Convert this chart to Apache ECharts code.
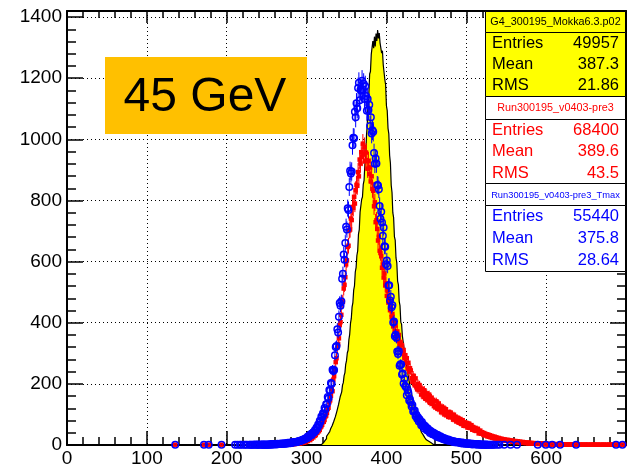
<!DOCTYPE html>
<html>
<head>
<meta charset="utf-8">
<script src="https://cdn.jsdelivr.net/npm/echarts@6/dist/echarts.min.js"></script>
<style>
  html, body { margin: 0; padding: 0; background: #fff; }
  #chart { width: 636px; height: 468px; }
</style>
</head>
<body>
<div id="chart"></div>
<script>
// Common bin width of the three histograms
const BIN = 1;

// G4_300195_Mokka6.3.p02 (simulation): lower edge of first bin, counts per bin
const simStart = 318;
const simCounts = [
  3, 6, 7, 12, 14, 19, 21, 28, 29, 36,
  41, 44, 52, 55, 63, 66, 77, 80, 92, 97,
  111, 115, 132, 138, 157, 161, 174, 196, 204, 227,
  236, 264, 276, 301, 310, 345, 362, 398, 414, 452,
  466, 507, 521, 566, 580, 620, 635, 690, 705, 762,
  768, 804, 812, 853, 866, 918, 938, 1012, 1048, 1122,
  1150, 1214, 1222, 1278, 1280, 1322, 1298, 1336, 1304, 1346,
  1322, 1358, 1330, 1348, 1316, 1322, 1282, 1290, 1244, 1238,
  1196, 1178, 1110, 1094, 1036, 1018, 948, 922, 850, 826,
  760, 744, 682, 670, 612, 596, 536, 524, 470, 456,
  402, 395, 356, 352, 318, 312, 284, 278, 247, 242,
  216, 210, 186, 182, 162, 156, 135, 130, 110, 106,
  89, 85, 70, 67, 56, 52, 41, 39, 33, 29,
  24, 21, 17, 15, 12, 10, 8, 7, 5, 3, 2, 1
];

// Run300195_v0403-pre3 (data)
const runStart = 250;
const runCounts = [
  0, 1, 0, 0, 1, 0, 1, 0, 1, 0,
  1, 0, 1, 1, 0, 2, 1, 1, 0, 2,
  1, 2, 2, 1, 3, 2, 2, 3, 1, 3,
  3, 2, 4, 3, 5, 3, 4, 6, 4, 5,
  6, 5, 8, 6, 7, 9, 8, 10, 9, 11,
  14, 13, 17, 18, 16, 22, 21, 27, 25, 31,
  30, 33, 39, 40, 47, 45, 50, 58, 61, 66,
  75, 76, 82, 93, 96, 105, 118, 122, 140, 146,
  161, 183, 176, 214, 225, 244, 271, 284, 318, 330,
  349, 392, 402, 426, 470, 468, 512, 524, 549, 591,
  604, 648, 652, 702, 705, 741, 736, 779, 776, 812,
  790, 834, 851, 848, 893, 879, 934, 921, 958, 943,
  986, 951, 975, 929, 957, 932, 904, 929, 887, 908,
  862, 879, 838, 832, 781, 794, 729, 735, 707, 669,
  681, 636, 628, 618, 580, 590, 548, 561, 522, 529,
  488, 505, 466, 473, 441, 455, 418, 429, 388, 407,
  372, 391, 358, 371, 341, 360, 328, 336, 311, 327,
  299, 311, 284, 294, 268, 284, 250, 269, 240, 251,
  244, 219, 207, 227, 213, 195, 218, 192, 182, 200,
  181, 196, 185, 165, 184, 169, 157, 179, 169, 151,
  169, 147, 157, 165, 138, 143, 155, 135, 147, 127,
  143, 123, 143, 126, 118, 136, 117, 125, 107, 125,
  109, 122, 100, 114, 117, 97, 106, 92, 107, 94,
  106, 90, 97, 83, 99, 87, 93, 77, 81, 89,
  73, 83, 85, 69, 73, 81, 63, 71, 74, 62,
  72, 57, 65, 70, 56, 56, 65, 50, 59, 51,
  47, 56, 46, 51, 53, 38, 41, 47, 37, 42,
  40, 33, 39, 31, 36, 35, 28, 34, 27, 32,
  25, 30, 24, 28, 22, 27, 21, 25, 23, 19,
  23, 18, 21, 17, 20, 16, 19, 15, 18, 14,
  15, 17, 13, 16, 12, 15, 13, 11, 14, 12,
  10, 13, 11, 9, 12, 10, 8, 11, 9, 8,
  10, 7, 9, 8, 6, 8, 7, 5, 8, 6,
  5, 7, 6, 4, 6, 5, 4, 6, 4, 5,
  3, 5, 4, 4, 3, 5, 3, 4, 2, 4,
  2, 4, 2, 3, 2, 3, 2, 3, 1, 3,
  2, 3, 1, 2, 2, 3, 1, 2, 1, 2,
  1, 2, 1, 2, 1, 2, 1, 1, 1, 2,
  1, 1, 0, 2, 1, 1, 1, 0, 1, 1,
  1, 0, 1, 1, 0, 1, 1, 0, 1, 1,
  0, 1, 1, 0, 1, 0, 1, 1, 0, 1,
  1, 0, 1, 0, 1, 1, 0, 1, 0, 1,
  0, 1, 1, 0, 1, 0, 1, 0, 1, 1,
  0, 1, 0, 1, 1, 0, 1, 0, 1, 0,
  1, 0, 1, 0, 0, 1, 0, 1, 0, 0
];
// isolated single entries below the main range
const runSparse = [[135.5, 1], [171.5, 1], [177.5, 1], [193.5, 1]];

// Run300195_v0403-pre3_Tmax (data, Tmax reconstruction)
const tmaxStart = 210;
const tmaxCounts = [
  1, 0, 0, 1, 0, 0, 1, 0, 1, 0,
  0, 1, 0, 1, 0, 1, 0, 0, 1, 1,
  0, 1, 1, 0, 1, 2, 0, 1, 1, 2,
  1, 0, 2, 1, 1, 2, 1, 2, 1, 1,
  2, 1, 2, 2, 1, 3, 2, 2, 3, 2,
  3, 3, 2, 4, 3, 3, 4, 3, 5, 4,
  4, 5, 4, 6, 5, 5, 7, 6, 7, 6,
  8, 7, 9, 8, 9, 10, 9, 11, 10, 12,
  12, 14, 13, 15, 16, 17, 19, 18, 21, 22,
  22, 28, 25, 31, 30, 36, 33, 39, 42, 41,
  49, 47, 57, 55, 67, 65, 79, 76, 93, 91,
  104, 101, 121, 116, 133, 134, 157, 153, 180, 178,
  203, 200, 246, 242, 245, 294, 321, 324, 379, 368,
  420, 465, 456, 470, 544, 560, 623, 606, 661, 714,
  705, 775, 769, 844, 897, 888, 895, 981, 1005, 1004,
  1090, 1072, 1118, 1102, 1168, 1185, 1128, 1162, 1160, 1192,
  1163, 1182, 1132, 1174, 1142, 1094, 1132, 1096, 1113, 1044,
  1072, 1019, 1030, 1025, 955, 920, 937, 921, 851, 849,
  837, 782, 740, 763, 728, 685, 712, 650, 649, 591,
  604, 586, 522, 523, 473, 485, 451, 457, 401, 404,
  356, 361, 351, 306, 298, 307, 259, 264, 263, 231,
  234, 201, 217, 193, 190, 163, 180, 170, 146, 150,
  140, 126, 131, 110, 112, 113, 94, 99, 86, 91,
  77, 84, 77, 65, 75, 62, 66, 54, 62, 56,
  48, 55, 46, 49, 39, 46, 41, 35, 41, 34,
  38, 30, 34, 26, 33, 27, 24, 29, 23, 25,
  20, 23, 18, 21, 16, 18, 15, 18, 14, 15,
  15, 12, 13, 10, 12, 9, 11, 10, 8, 10,
  9, 7, 8, 6, 8, 5, 7, 6, 4, 6,
  5, 4, 6, 3, 4, 5, 3, 2, 4, 3,
  3, 2, 3, 2, 2, 3, 2, 1, 2, 2,
  1, 2, 1, 1, 2, 1, 1, 1, 0, 1,
  1, 0, 1, 1, 0, 1, 0, 0, 1, 0
];
const tmaxSparse = [
  [135.5, 1], [171.5, 1], [177.5, 1], [193.5, 1],
  [541.5, 1], [547.5, 1], [555.5, 1], [563.5, 1], [589.5, 1], [599.5, 1],
  [607.5, 1], [617.5, 1], [637.5, 1], [687.5, 1], [695.5, 1]
];

// Statistics boxes
const statTitles = ['G4_300195_Mokka6.3.p02', 'Run300195_v0403-pre3', 'Run300195_v0403-pre3_Tmax'];
const statEntries = ['49957', '68400', '55440'];
const statMeans = ['387.3', '389.6', '375.8'];
const statRms = ['21.86', '43.5', '28.64'];
const statColors = ['#000000', '#ff0000', '#0000ff'];
const statFills = ['#ffff00', '#ffffff', '#ffffff'];
const statTitleSizes = [10.8, 10.8, 9.3];

const energyLabel = '45 GeV';

// ---- derived series data ----
function stepOutline(start, counts) {
  const pts = [[start, 0]];
  counts.forEach((c, i) => pts.push([start + i * BIN, c]));
  const end = start + counts.length * BIN;
  pts.push([end, counts[counts.length - 1]]);
  pts.push([end, 0]);
  return pts;
}
function markerPoints(start, counts, extra) {
  const pts = [];
  extra.forEach(p => pts.push(p));
  counts.forEach((c, i) => { if (c > 0) pts.push([start + i * BIN + BIN / 2, c]); });
  return pts;
}
function errorBars(color) {
  return function (params, api) {
    const x = api.value(0), y = api.value(1);
    const e = Math.sqrt(y);
    const p1 = api.coord([x, y + e]);
    const p2 = api.coord([x, Math.max(0, y - e)]);
    return {
      type: 'line',
      shape: { x1: p1[0], y1: p1[1], x2: p2[0], y2: p2[1] },
      style: { stroke: color, lineWidth: 1 }
    };
  };
}

const simLine = stepOutline(simStart, simCounts);
const runPts = markerPoints(runStart, runCounts, runSparse);
const tmaxPts = markerPoints(tmaxStart, tmaxCounts, tmaxSparse);

const FONT = "'Liberation Sans', Arial, Helvetica, sans-serif";
const gridL = 67, gridT = 11, gridR = 10, gridB = 21;

// ---- frame axes ----
const tickStyle = { color: '#000', width: 1.5 };
const dotted = { color: '#000', width: 1, type: [1, 3] };

const xAxes = [
  {
    type: 'value', position: 'bottom', min: 0, max: 700, interval: 100,
    axisLine: { show: true, onZero: false, lineStyle: { color: '#000', width: 2 } },
    axisTick: { show: true, inside: true, length: 14, lineStyle: tickStyle },
    minorTick: { show: true, splitNumber: 5, length: 8, lineStyle: tickStyle },
    splitLine: { show: true, lineStyle: dotted },
    axisLabel: {
      show: true, margin: 4, color: '#000', fontSize: 19, fontFamily: FONT,
      formatter: v => (v < 700 ? String(v) : '')
    }
  },
  {
    type: 'value', position: 'top', min: 0, max: 700, interval: 100,
    axisLine: { show: true, onZero: false, lineStyle: { color: '#000', width: 2 } },
    axisTick: { show: true, inside: true, length: 12, lineStyle: tickStyle },
    minorTick: { show: true, splitNumber: 5, length: 7, lineStyle: tickStyle },
    splitLine: { show: false },
    axisLabel: { show: false }
  }
];

function yAx(pos, interval, len, showLine, labels, grid) {
  return {
    type: 'value', position: pos, min: 0, max: 1420, interval: interval,
    axisLine: { show: showLine, onZero: false, lineStyle: { color: '#000', width: 2 } },
    axisTick: { show: true, inside: true, length: len, lineStyle: tickStyle },
    splitLine: { show: grid, lineStyle: dotted },
    axisLabel: labels ? {
      show: true, margin: 5, color: '#000', fontSize: 19, fontFamily: FONT,
      formatter: v => (v % 200 === 0 ? String(v) : '')
    } : { show: false }
  };
}
const yAxes = [
  yAx('left', 200, 16, true, true, true),
  yAx('left', 40, 9, false, false, false),
  yAx('right', 200, 16, true, false, false),
  yAx('right', 40, 9, false, false, false)
];

// ---- statistics boxes and energy label ----
const graphics = [];
const boxL = 485, boxW = 140;
const boxRows = [[11, 32, 96], [96, 119, 183], [183, 205, 271]];
const lineY = [[43, 64, 85], [130, 151, 173], [216, 238, 260]];
statTitles.forEach((t, k) => {
  const [top, sep, bot] = boxRows[k];
  const col = statColors[k];
  graphics.push({
    type: 'rect', z: 100,
    shape: { x: boxL + 0.5, y: top + 0.5, width: boxW, height: sep - top },
    style: { fill: statFills[k], stroke: '#000', lineWidth: 1 }
  });
  graphics.push({
    type: 'rect', z: 100,
    shape: { x: boxL + 0.5, y: sep + 0.5, width: boxW, height: bot - sep },
    style: { fill: statFills[k], stroke: '#000', lineWidth: 1 }
  });
  graphics.push({
    type: 'text', z: 101, x: boxL + boxW / 2 + 0.5, y: (top + sep) / 2 + 1,
    style: { text: t, fill: col, font: statTitleSizes[k] + 'px ' + FONT, textAlign: 'center', textVerticalAlign: 'middle' }
  });
  const labels = ['Entries', 'Mean', 'RMS'];
  const vals = [statEntries[k], statMeans[k], statRms[k]];
  labels.forEach((lab, j) => {
    graphics.push({
      type: 'text', z: 101, x: boxL + 7, y: lineY[k][j],
      style: { text: lab, fill: col, font: '16.5px ' + FONT, textAlign: 'left', textVerticalAlign: 'middle' }
    });
    graphics.push({
      type: 'text', z: 101, x: boxL + boxW - 6, y: lineY[k][j],
      style: { text: vals[j], fill: col, font: '16.5px ' + FONT, textAlign: 'right', textVerticalAlign: 'middle' }
    });
  });
});
graphics.push({
  type: 'rect', z: 100,
  shape: { x: 105, y: 57, width: 202, height: 77 },
  style: { fill: '#ffc000' }
});
graphics.push({
  type: 'text', z: 101, x: 205, y: 98,
  style: { text: energyLabel, fill: '#000', font: '48px ' + FONT, textAlign: 'center', textVerticalAlign: 'middle' }
});

const chart = echarts.init(document.getElementById('chart'), null, { renderer: 'canvas' });
chart.setOption({
  animation: false,
  backgroundColor: '#fff',
  grid: { left: gridL, top: gridT, right: gridR, bottom: gridB, containLabel: false },
  xAxis: xAxes,
  yAxis: yAxes,
  graphic: graphics,
  series: [
    {
      name: statTitles[0], type: 'line', step: 'end', data: simLine,
      xAxisIndex: 0, yAxisIndex: 0, symbol: 'none', z: 2,
      lineStyle: { color: '#000', width: 1.2 },
      areaStyle: { color: '#ffff00', opacity: 1 }
    },
    {
      type: 'custom', data: runPts, renderItem: errorBars('#ff0000'),
      xAxisIndex: 0, yAxisIndex: 0, z: 3, silent: true
    },
    {
      name: statTitles[1], type: 'scatter', data: runPts,
      xAxisIndex: 0, yAxisIndex: 0, z: 3, symbol: 'rect', symbolSize: 4.5,
      itemStyle: { color: '#ff0000', opacity: 1 }
    },
    {
      type: 'custom', data: tmaxPts, renderItem: errorBars('#0000ff'),
      xAxisIndex: 0, yAxisIndex: 0, z: 4, silent: true
    },
    {
      name: statTitles[2], type: 'scatter', data: tmaxPts,
      xAxisIndex: 0, yAxisIndex: 0, z: 4, symbol: 'circle', symbolSize: 6.5,
      itemStyle: { color: 'rgba(0,0,0,0)', borderColor: '#0000ff', borderWidth: 1.5, opacity: 1 }
    }
  ]
});
</script>
</body>
</html>
